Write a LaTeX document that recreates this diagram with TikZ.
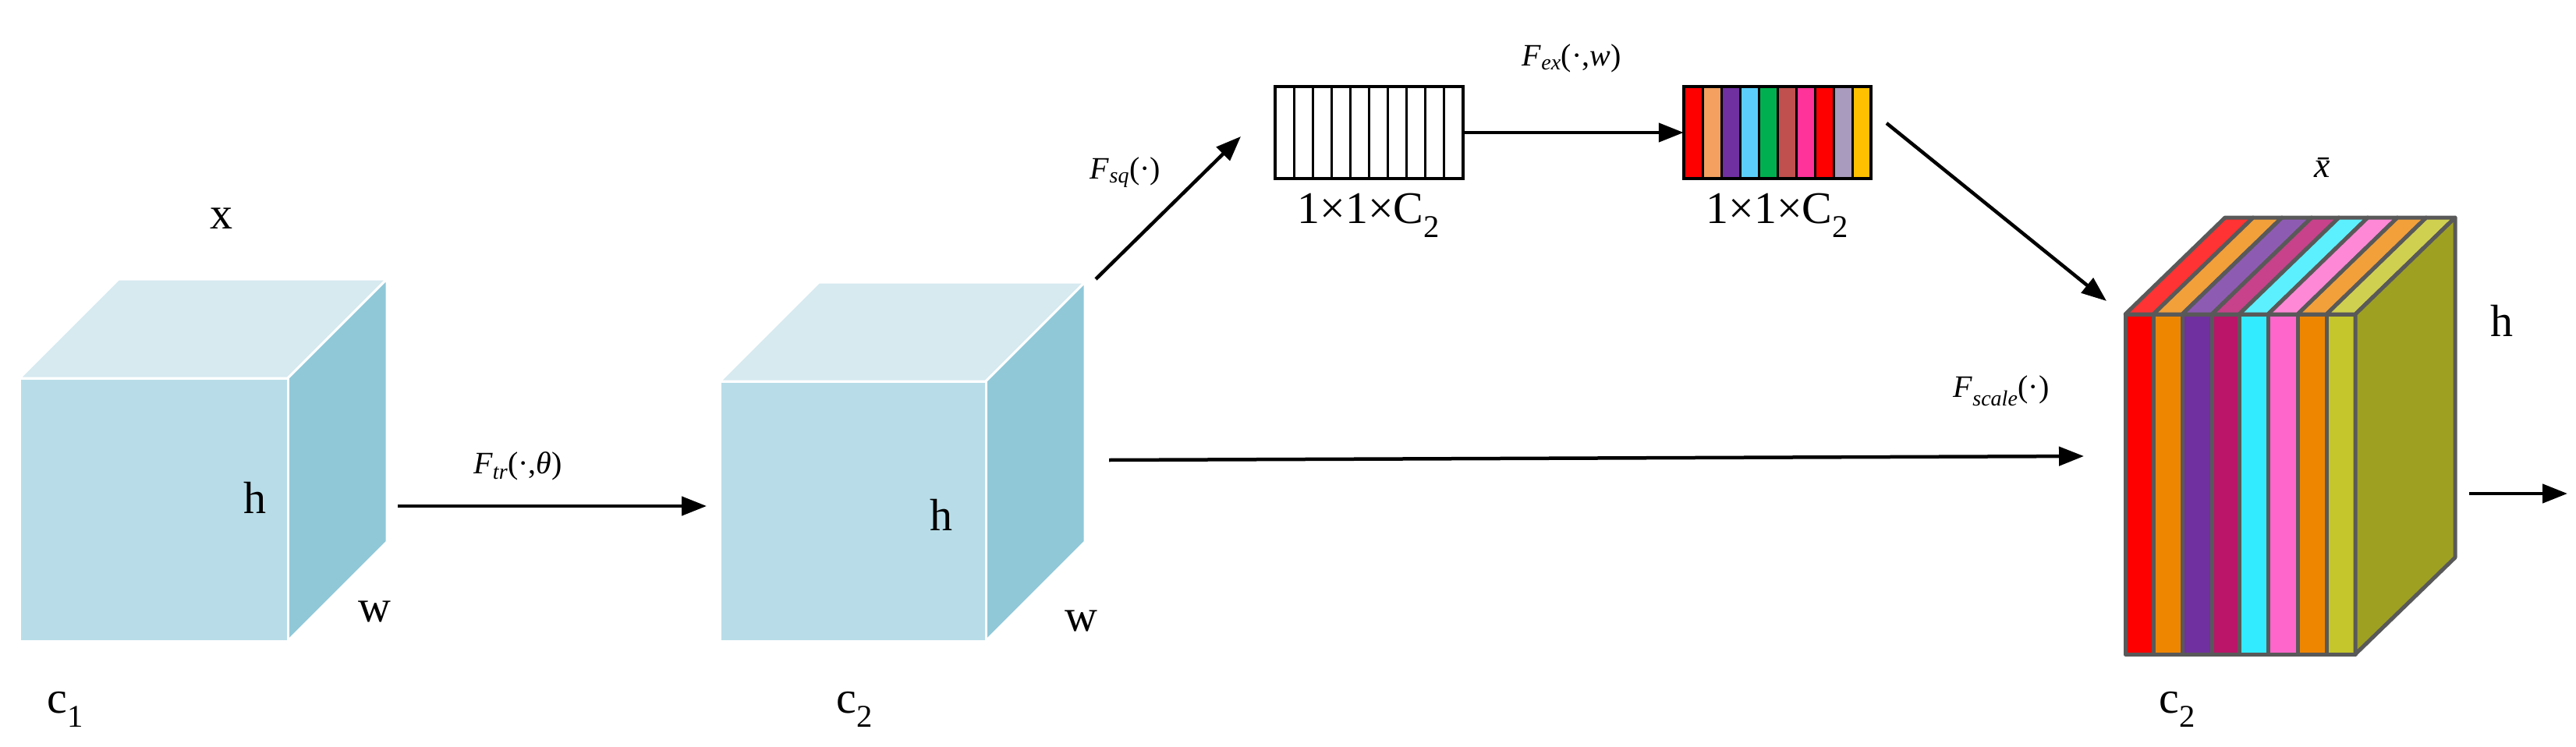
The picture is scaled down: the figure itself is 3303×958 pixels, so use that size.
\documentclass[tikz,border=0pt]{standalone}
\usepackage{fontspec}
\setmainfont{Liberation Serif}
\usetikzlibrary{arrows.meta}
\newcommand{\sbx}[1]{\textsubscript{\itshape #1}}
\begin{document}
\begin{tikzpicture}[x=1pt,y=-1pt,
  arr/.style={line width=4.5pt,-{Triangle[length=32pt,width=24pt]}},
  lab/.style={font=\fontsize{58}{60}\selectfont,inner sep=0},
  flab/.style={font=\fontsize{40}{42}\selectfont,inner sep=0},
  cube/.style={draw=white,line width=3pt,line join=round}]
\useasboundingbox (0,0) rectangle (3303,958);
\definecolor{cf}{HTML}{B8DDE8}\definecolor{ct}{HTML}{D6EAF0}\definecolor{cs}{HTML}{90C8D8}
% left cube
\filldraw[cube,fill=ct] (25,485)--(152,358)--(496,358)--(369,485)--cycle;
\filldraw[cube,fill=cs] (369,485)--(496,358)--(496,695)--(369,822)--cycle;
\filldraw[cube,fill=cf] (25,485) rectangle (369,822);
\node[lab] (x) at (284,280) {x};
\node[lab] (h1) at (327,638) {h};
\node[lab] (w1) at (480,784) {w};
\node[lab] (c1) at (84,910) {c\textsubscript{1}};
% middle cube
\filldraw[cube,fill=ct] (923,489)--(1050,362)--(1391,362)--(1264,489)--cycle;
\filldraw[cube,fill=cs] (1264,489)--(1391,362)--(1391,695)--(1264,822)--cycle;
\filldraw[cube,fill=cf] (923,489) rectangle (1264,822);
\node[lab] (h2) at (1207,660) {h};
\node[lab] (w2) at (1386,796) {w};
\node[lab] (c2) at (1096,910) {c\textsubscript{2}};
\coordinate (a1s) at (510,649); \coordinate (a1e) at (906,649);
\draw[arr] (a1s)--(a1e);
\node[flab] (ftr) at (664,598) {\textit{F}\sbx{tr}(·,\textit{θ})};
% squeeze
\coordinate (sqs) at (1405,358); \coordinate (sqe) at (1591,175);
\draw[arr] (sqs)--(sqe);
\node[flab] (fsq) at (1443,221) {\textit{F}\sbx{sq}(·)};
% white vector
\node[draw,line width=4pt,fill=white,minimum width=241pt,minimum height=118pt,inner sep=0] (v1) at (1755.5,170) {};
\foreach \i in {1,...,9}{\draw[line width=3pt] (1635+24.1*\i,111)--(1635+24.1*\i,229);}
\node[lab] (l1) at (1755,276) {1×1×C\textsubscript{2}};
% colour vector
\node[minimum width=240pt,minimum height=118pt,inner sep=0] (v2) at (2279,170) {};
\foreach \c [count=\i from 0] in {FF0000,F4A060,7030A0,5BCFFA,00B050,C0504D,FF3399,FF0000,A99BBD,FFC000}{
  \definecolor{tmp}{HTML}{\c}\fill[tmp] (2159+24*\i,111) rectangle (2159+24*\i+24,229);
  \draw[line width=3pt] (2159+24*\i,111)--(2159+24*\i,229);}
\draw[line width=4pt] (v2.north west) rectangle (v2.south east);
\node[lab] (l2) at (2279,276) {1×1×C\textsubscript{2}};
\draw[arr] (v1.east)--(v2.west);
\node[flab] (fex) at (2015,75) {\textit{F}\sbx{ex}(·,\textit{w})};
% arrow to block
\coordinate (exs) at (2419,158); \coordinate (exe) at (2701,386);
\draw[arr] (exs)--(exe);
% long arrow
\coordinate (ls) at (1422,590); \coordinate (le) at (2672,585);
\draw[arr] (ls)--(le);
\node[flab] (fsc) at (2566,501) {\textit{F}\sbx{scale}(·)};
% block
\def\xs{{2725,2761,2798,2836,2871,2908,2946,2983,3020}}
\foreach \c/\t [count=\i from 0] in {FF0000/FF3333,EE8600/F2A03A,7030A0/8E5BB3,BA1568/C7428A,33EBFF/5CF0FF,FF66CC/FF88D6,EE8600/F2A03A,C4C62B/D0D050}{
  \pgfmathsetmacro\xa{\xs[\i]}\pgfmathsetmacro\xb{\xs[\i+1]}
  \definecolor{tf}{HTML}{\c}\definecolor{tt}{HTML}{\t}
  \filldraw[fill=tf,draw=black!65,line width=5pt,line join=round] (\xa,403) rectangle (\xb,839);
  \filldraw[fill=tt,draw=black!65,line width=5pt,line join=round] (\xa,403)--(\xa+128,279)--(\xb+128,279)--(\xb,403)--cycle;}
\definecolor{ol}{HTML}{9EA022}
\filldraw[fill=ol,draw=black!65,line width=5pt,line join=round] (3020,403)--(3148,279)--(3148,715)--(3020,839)--cycle;
\node[flab,font=\fontsize{46}{48}\selectfont] (xb) at (2983,215) {\textit{\={x}}};
\node[lab] (h3) at (3208,411) {h};
\node[lab] (c3) at (2792,910) {c\textsubscript{2}};
\coordinate (os) at (3166,633); \coordinate (oe) at (3292,633);
\draw[arr] (os)--(oe);
\end{tikzpicture}
\end{document}
